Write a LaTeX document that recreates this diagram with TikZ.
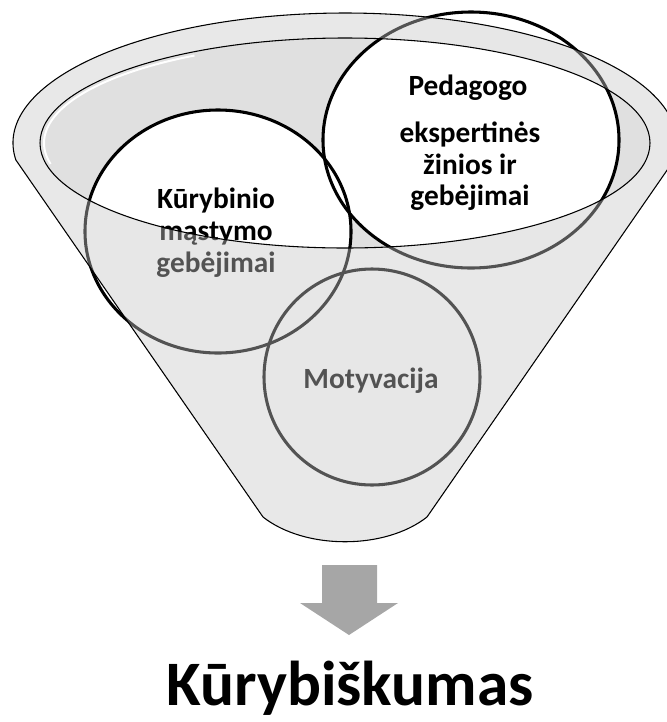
\documentclass[tikz,border=0pt]{standalone}
\usepackage{fontspec}
\setmainfont{Carlito}
\definecolor{backgray}{RGB}{224,224,224}
\definecolor{ovl}{RGB}{200,200,200}
\definecolor{arrowgray}{RGB}{166,166,166}
\tikzset{
  circline/.style={draw=black, line width=2.3pt},
  circfill/.style={fill=white},
  thinline/.style={draw=black, line width=0.8pt},
  lbl/.style={anchor=base, inner sep=0pt, font=\bfseries\fontsize{22}{26}\selectfont},
}
\begin{document}
\begin{tikzpicture}[x=0.75pt,y=-0.75pt]
\useasboundingbox (0,0) rectangle (667,722);
% back of the funnel mouth
\fill[backgray] (345,143) ellipse [x radius=305, y radius=105];
\draw[white, line width=1.5pt] (345,143) ++(168:301 and 101) arc [start angle=168, end angle=240, x radius=301, y radius=101];
% circles (fills then outlines)
\fill[circfill] (372,377) ellipse [x radius=108, y radius=108];
\fill[circfill] (218,231.5) ellipse [x radius=133, y radius=121.5];
\fill[circfill] (471,140) ellipse [x radius=148, y radius=128];
\draw[circline] (372,377) ellipse [x radius=108, y radius=108];
\draw[circline] (218,231.5) ellipse [x radius=133, y radius=121.5];
\draw[circline] (471,140) ellipse [x radius=148, y radius=128];
% texts
\node[lbl] (k1) at (216,208) {Kūrybinio};
\node[lbl] (k2) at (216,240) {mąstymo};
\node[lbl] (k3) at (216,272) {gebėjimai};
\node[lbl] (p1) at (468,95) {Pedagogo};
\node[lbl] (p2) at (470,142) {ekspertinės};
\node[lbl] (p3) at (470,174) {žinios ir};
\node[lbl] (p4) at (470,205) {gebėjimai};
\node[lbl] (m1) at (371,388) {Motyvacija};
% translucent front of the funnel
\fill[ovl, fill opacity=0.42, even odd rule]
  (345,143) ++(172.5:332 and 130) arc [start angle=172.5, end angle=367.5, x radius=332, y radius=130]
  -- (427,517) .. controls (385,550) and (305,550) .. (263,517) -- cycle
  (345,143) ellipse [x radius=305, y radius=105];
\draw[thinline]
  (345,143) ++(172.5:332 and 130) arc [start angle=172.5, end angle=367.5, x radius=332, y radius=130]
  -- (427,517) .. controls (385,550) and (305,550) .. (263,517) -- cycle;
\draw[thinline] (345,143) ellipse [x radius=305, y radius=105];
% arrow
\fill[arrowgray] (322,565) -- (377,565) -- (377,603) -- (398,603) -- (349,635) -- (300,603) -- (322,603) -- cycle;
% result
\node[anchor=base, inner sep=0pt, font=\bfseries\fontsize{47.5}{52}\selectfont] (res) at (350,705) {Kūrybiškumas};
\end{tikzpicture}
\end{document}
